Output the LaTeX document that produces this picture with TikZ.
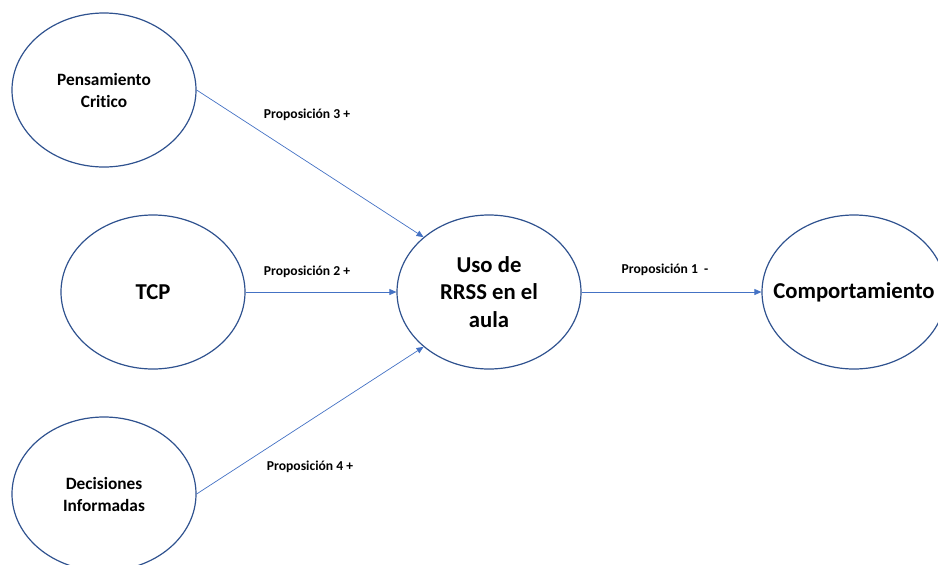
\documentclass[tikz,border=0pt]{standalone}
\usepackage{fontspec}
\setmainfont{Carlito}[Ligatures=NoCommon]
\usetikzlibrary{shapes.geometric,arrows.meta}
\definecolor{ellblue}{HTML}{2F528F}
\definecolor{arrblue}{HTML}{4472C4}
\tikzset{
  ell/.style={draw=ellblue, line width=1.2pt, ellipse, minimum width=184pt, minimum height=154pt, inner sep=0pt},
  smalltxt/.style={font=\fontsize{17.3}{22}\selectfont\bfseries, align=center},
  bigtxt/.style={font=\fontsize{22.7}{27.5}\selectfont\bfseries, align=center},
  lbl/.style={font=\fontsize{13.6}{15}\selectfont\bfseries},
  conn/.style={draw=arrblue, line width=0.7pt, -{Triangle[length=7pt,width=6pt]}}
}
\begin{document}
\begin{tikzpicture}[x=1pt,y=-1pt]
\useasboundingbox (0,0) rectangle (938,565);
\clip (0,0) rectangle (938,565);
\node[ell] (pc) at (104,90) {};
\node[smalltxt] (pct) at (pc) {Pensamiento\\Critico};
\node[ell] (tcp) at (153,292) {};
\node[bigtxt] (tcpt) at (tcp) {TCP};
\node[ell] (di) at (104,494) {};
\node[smalltxt] (dit) at (di) {Decisiones\\Informadas};
\node[ell] (uso) at (489,292) {};
\node[bigtxt] (usot) at (uso) {Uso de\\RRSS en el\\aula};
\node[ell] (co) at (854,292) {};
\node[bigtxt] (cot) at (co) {Comportamiento};
\draw[conn] (pc.east) -- (uso.north west);
\draw[conn] (tcp.east) -- (uso.west);
\draw[conn] (di.east) -- (uso.south west);
\draw[conn] (uso.east) -- (co.west);
\node[lbl] (l3) at (307,115) {Proposición 3 +};
\node[lbl] (l2) at (307,272) {Proposición 2 +};
\node[lbl] (l4) at (310,467) {Proposición 4 +};
\node[lbl] (l1) at (665,270) {Proposición 1\ \ -};
\end{tikzpicture}
\end{document}
